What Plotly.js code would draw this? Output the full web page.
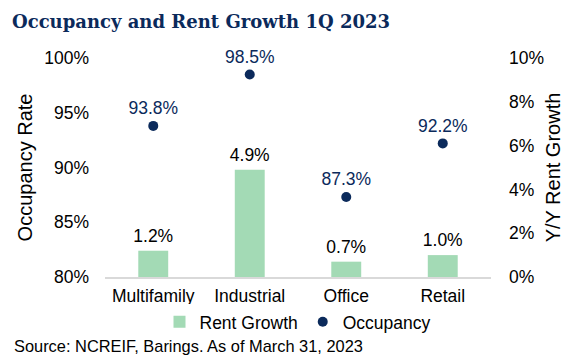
<!DOCTYPE html>
<html><head><meta charset="utf-8">
<script src="https://cdn.plot.ly/plotly-3.0.1.min.js"></script>
<style>html,body{margin:0;padding:0;background:#fff}#c{width:578px;height:363px}</style>
</head><body><div id="c"></div>
<script>
const categories = ["Multifamily", "Industrial", "Office", "Retail"];
const rentGrowth = [1.2, 4.9, 0.7, 1.0];
const occupancy = [93.8, 98.5, 87.3, 92.2];
const leftTicks = [80, 85, 90, 95, 100];
const rightTicks = [0, 2, 4, 6, 8, 10];

const navy = "#0b2a5b";
const font = "Arial, 'Liberation Sans', sans-serif";
const fs = 17.5;

const traces = [
  {
    type: "bar", name: "Rent Growth", x: categories, y: rentGrowth, yaxis: "y2",
    marker: {color: "#a3dab5"}, width: 0.31
  },
  {
    type: "scatter", mode: "markers+text", name: "Occupancy", x: categories, y: occupancy,
    marker: {color: navy, size: 10},
    text: occupancy.map(v => v.toFixed(1) + "%"), textposition: "top center",
    textfont: {family: font, size: fs, color: navy}, cliponaxis: false
  },
  {
    type: "scatter", mode: "markers+text", name: "Rent Growth labels", showlegend: false,
    x: categories, y: rentGrowth, yaxis: "y2",
    marker: {color: "rgba(0,0,0,0)", size: 6},
    text: rentGrowth.map(v => v.toFixed(1) + "%"), textposition: "top center",
    textfont: {family: font, size: fs, color: "#000"}, cliponaxis: false
  }
];

const layout = {
  width: 578, height: 363,
  margin: {l: 105, r: 87, t: 58, b: 86},
  paper_bgcolor: "#fff", plot_bgcolor: "#fff",
  font: {family: font, size: fs, color: "#000"},
  showlegend: true,
  legend: {orientation: "h", x: 0.5, xanchor: "center", y: -0.205, yanchor: "middle",
           font: {family: font, size: fs, color: "#000"}, itemwidth: 30, traceorder: "normal"},
  title: {text: "<b>Occupancy and Rent Growth 1Q 2023</b>", x: 12/578, xref: "container", xanchor: "left",
          y: 1 - 22/363, yref: "container", yanchor: "middle",
          font: {family: "Georgia, 'DejaVu Serif', serif", size: 18, color: navy}},
  xaxis: {type: "category", showgrid: false, showline: true, linecolor: "#d9d9d9", linewidth: 2,
          ticks: "", tickfont: {size: fs}, zeroline: false, ticklabelstandoff: 2},
  yaxis: {range: [80, 100], tickvals: leftTicks, ticktext: leftTicks.map(v => v + "%"),
          showgrid: false, zeroline: false, showline: false, ticks: "", ticklabelstandoff: 15,
          tickfont: {size: fs}, title: {text: "Occupancy Rate", font: {size: 20}, standoff: 6}},
  yaxis2: {range: [0, 10], tickvals: rightTicks, ticktext: rightTicks.map(v => v + "%"),
           overlaying: "y", side: "right", showgrid: false, zeroline: false, showline: false, ticks: "",
           ticklabelstandoff: 17,
           tickfont: {size: fs}, title: {text: "Y/Y Rent Growth", font: {size: 20}, standoff: 2}},
  annotations: [{
    text: "Source: NCREIF, Barings. As of March 31, 2023", xref: "paper", yref: "paper",
    x: (12 - 105)/386, y: -(346 - 277)/219, xanchor: "left", yanchor: "middle", showarrow: false,
    font: {family: font, size: 16.4, color: "#000"}
  }]
};

Plotly.newPlot("c", traces, layout, {displayModeBar: false, staticPlot: true});
</script></body></html>
